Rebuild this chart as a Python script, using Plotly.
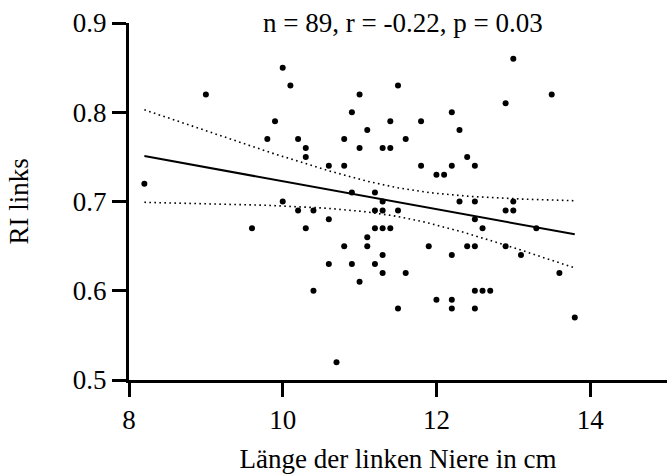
import numpy as np
import plotly.graph_objects as go

# Kidney length (cm) and resistive index of the left kidney
kidney_length = [
    10.0, 10.1, 9.0, 9.9, 9.8, 10.2,
    11.5, 11.0, 10.9, 12.2, 11.4, 11.8, 11.1, 12.3, 10.8, 11.6,
    13.0, 13.5, 12.9,
    8.2, 10.0, 10.2, 9.6,
    10.3, 11.0, 11.3, 11.4,
    10.3, 12.4,
    10.6, 10.8, 11.8, 12.2,
    12.0, 12.1,
    10.9, 11.2,
    11.3, 12.3,
    10.4, 11.2, 11.3, 11.5,
    10.6,
    10.3, 11.2, 11.3, 11.4,
    11.1,
    10.8, 11.1, 11.9, 12.4,
    11.3, 12.2,
    10.6, 10.9, 11.2,
    12.5, 12.5, 13.0, 12.9, 13.0, 12.5, 12.6, 13.3, 12.5, 12.9, 13.1,
    11.3, 11.6, 11.0, 10.4, 12.0, 12.2, 11.5, 12.2, 10.7,
    13.6, 12.5, 12.6, 12.7, 12.5, 13.8,
]
ri_left = [
    0.85, 0.83, 0.82, 0.79, 0.77, 0.77,
    0.83, 0.82, 0.80, 0.80, 0.79, 0.79, 0.78, 0.78, 0.77, 0.77,
    0.86, 0.82, 0.81,
    0.72, 0.70, 0.69, 0.67,
    0.76, 0.76, 0.76, 0.76,
    0.75, 0.75,
    0.74, 0.74, 0.74, 0.74,
    0.73, 0.73,
    0.71, 0.71,
    0.70, 0.70,
    0.69, 0.69, 0.69, 0.69,
    0.68,
    0.67, 0.67, 0.67, 0.67,
    0.66,
    0.65, 0.65, 0.65, 0.65,
    0.64, 0.64,
    0.63, 0.63, 0.63,
    0.74, 0.70, 0.70, 0.69, 0.69, 0.68, 0.67, 0.67, 0.65, 0.65, 0.64,
    0.62, 0.62, 0.61, 0.60, 0.59, 0.59, 0.58, 0.58, 0.52,
    0.62, 0.60, 0.60, 0.60, 0.58, 0.57,
]

x_ticks = [8, 10, 12, 14]
stats_label = "n = 89, r = -0.22, p = 0.03"

# Linear regression with 95% confidence band of the mean
x = np.array(kidney_length)
y = np.array(ri_left)
n = len(x)
slope, intercept = np.polyfit(x, y, 1)
resid = y - (intercept + slope * x)
s = np.sqrt(np.sum(resid ** 2) / (n - 2))
sxx = np.sum((x - x.mean()) ** 2)
t_crit = 1.988
xf = np.linspace(x.min(), x.max(), 100)
yf = intercept + slope * xf
half = t_crit * s * np.sqrt(1.0 / n + (xf - x.mean()) ** 2 / sxx)

FONT = "Liberation Serif"
text_font = dict(family=FONT, size=27, color="black")

fig = go.Figure()
fig.add_trace(go.Scatter(x=xf, y=yf + half, mode="lines",
                         line=dict(color="black", width=1.6, dash="1.6px,3.4px"),
                         hoverinfo="skip"))
fig.add_trace(go.Scatter(x=xf, y=yf - half, mode="lines",
                         line=dict(color="black", width=1.6, dash="1.6px,3.4px"),
                         hoverinfo="skip"))
fig.add_trace(go.Scatter(x=xf, y=yf, mode="lines",
                         line=dict(color="black", width=2)))
fig.add_trace(go.Scatter(x=kidney_length, y=ri_left, mode="markers",
                         marker=dict(color="black", size=6)))

fig.add_annotation(text=stats_label, x=0.509, xref="paper", y=0.9, yref="y",
                   showarrow=False, font=text_font)

axis_common = dict(showline=True, linecolor="black", linewidth=3,
                   ticks="outside", ticklen=14, tickwidth=3, tickcolor="black",
                   showgrid=False, zeroline=False, tickfont=text_font)

fig.update_xaxes(range=[8, 15], tickvals=x_ticks,
                 title=dict(text="Länge der linken Niere in cm", standoff=18,
                            font=text_font),
                 **axis_common)
fig.update_yaxes(range=[0.5, 0.9], dtick=0.1, tick0=0.5, tickformat=".1f",
                 title=dict(text="RI links", standoff=37, font=text_font),
                 **axis_common)

fig.update_layout(width=669, height=474, showlegend=False,
                  font=dict(family=FONT, size=27, color="black"),
                  margin=dict(l=129, r=2, t=23, b=91),
                  plot_bgcolor="white", paper_bgcolor="white")

fig.write_html("out.html")
